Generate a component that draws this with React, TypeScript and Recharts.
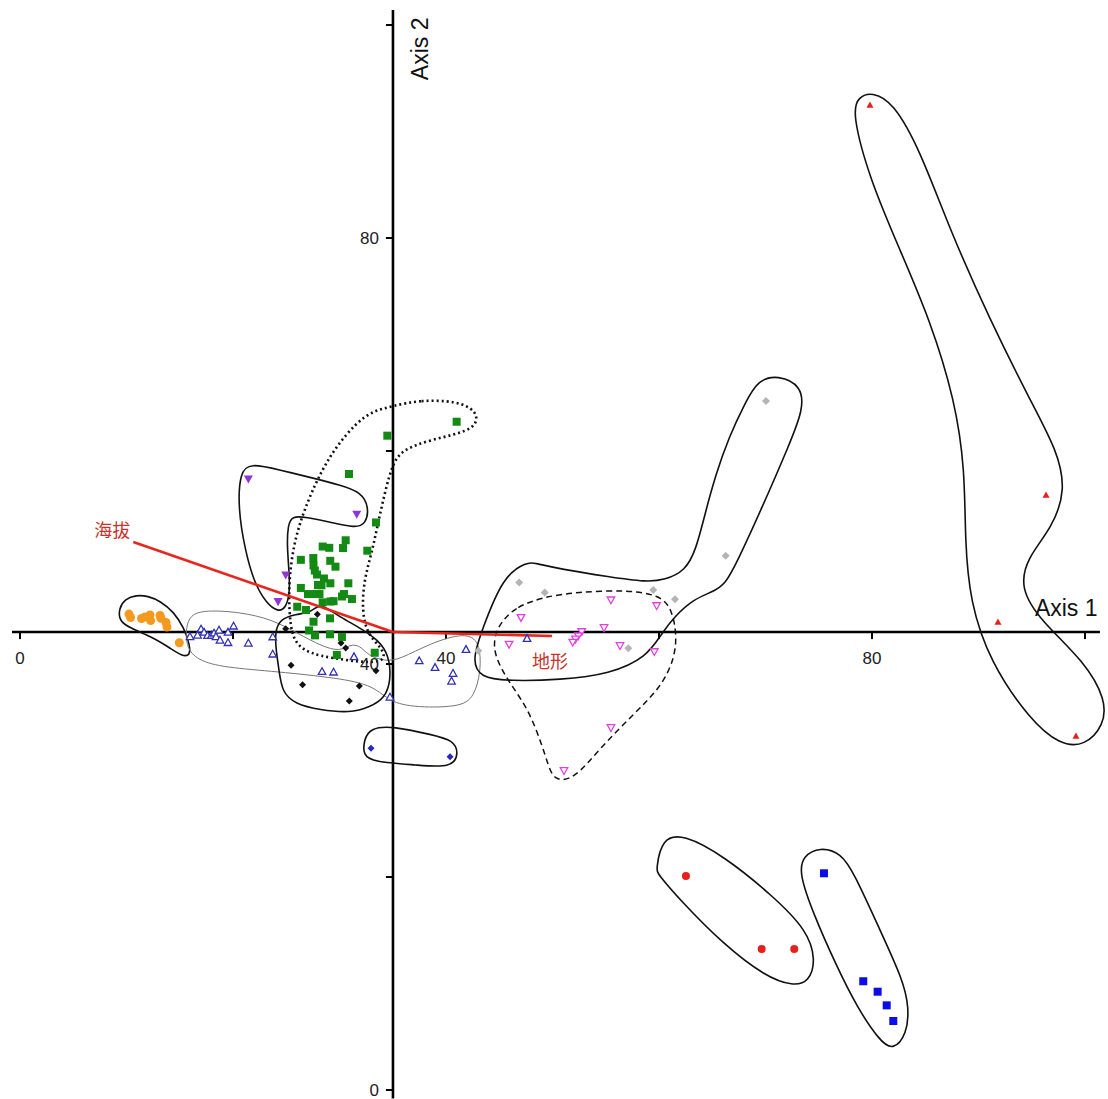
import { ScatterChart, Scatter, XAxis, YAxis, ReferenceLine, ReferenceDot } from "recharts";

type Pt = { x: number; y: number };

// axes cross at the centroid of the ordination
const axisCross: Pt = { x: 35.02, y: 43.0 };
const axis1Range = [-0.75, 101.4];
const axis2Range = [-0.8, 101.4];
const axis1Ticks = [0, 20, 40, 60, 80, 100];
const axis2Ticks = [0, 20, 40, 60, 80, 100];
const axis1Labels = [0, 40, 80];
const axis2Labels = [0, 40, 80];

// environmental vectors
const altitudeVector: Pt[] = [axisCross, { x: 10.64, y: 51.45 }];
const terrainVector: Pt[] = [axisCross, { x: 49.95, y: 42.63 }];

// sample scores
const orangeCircles: Pt[] = [
  { x: 10.23, y: 44.69 }, { x: 10.38, y: 44.37 }, { x: 11.41, y: 44.27 }, { x: 11.74, y: 44.41 },
  { x: 12.21, y: 44.6 }, { x: 12.27, y: 44.08 }, { x: 13.15, y: 44.55 }, { x: 13.24, y: 44.29 },
  { x: 13.71, y: 43.9 }, { x: 13.8, y: 43.47 }, { x: 14.96, y: 42.0 },
];
const blueTriangles: Pt[] = [
  { x: 15.96, y: 42.58 }, { x: 16.67, y: 42.72 }, { x: 17.0, y: 43.29 }, { x: 17.28, y: 43.0 },
  { x: 17.61, y: 42.68 }, { x: 17.98, y: 42.72 }, { x: 18.22, y: 42.91 }, { x: 18.4, y: 42.58 },
  { x: 18.69, y: 43.19 }, { x: 18.78, y: 42.25 }, { x: 19.53, y: 42.02 }, { x: 19.53, y: 43.0 },
  { x: 20.05, y: 43.57 }, { x: 21.44, y: 41.97 }, { x: 23.73, y: 42.56 }, { x: 23.73, y: 40.94 },
  { x: 28.36, y: 39.3 }, { x: 29.44, y: 39.25 }, { x: 31.36, y: 40.69 }, { x: 34.74, y: 36.9 },
  { x: 37.49, y: 40.31 }, { x: 38.97, y: 39.69 }, { x: 40.66, y: 39.13 }, { x: 40.52, y: 38.4 },
  { x: 41.88, y: 41.38 }, { x: 47.61, y: 42.41 },
];
const blackDiamonds: Pt[] = [
  { x: 24.95, y: 43.31 }, { x: 27.92, y: 44.67 }, { x: 30.14, y: 41.97 }, { x: 30.58, y: 41.5 },
  { x: 29.81, y: 40.8 }, { x: 25.45, y: 39.88 }, { x: 26.53, y: 38.06 }, { x: 31.86, y: 37.93 },
  { x: 30.92, y: 36.53 }, { x: 33.43, y: 39.37 },
];
const greenSquares: Pt[] = [
  { x: 41.0, y: 62.75 }, { x: 34.49, y: 61.44 }, { x: 30.89, y: 57.84 }, { x: 33.43, y: 53.29 },
  { x: 32.61, y: 50.64 }, { x: 30.58, y: 51.62 }, { x: 28.42, y: 51.03 }, { x: 29.04, y: 50.91 },
  { x: 30.33, y: 50.89 }, { x: 26.37, y: 49.78 }, { x: 27.54, y: 49.95 }, { x: 29.13, y: 49.69 },
  { x: 27.56, y: 49.25 }, { x: 29.62, y: 49.14 }, { x: 27.68, y: 48.78 }, { x: 27.89, y: 48.4 },
  { x: 28.54, y: 48.03 }, { x: 27.98, y: 47.42 }, { x: 28.31, y: 47.39 }, { x: 29.14, y: 47.58 },
  { x: 30.83, y: 47.58 }, { x: 26.37, y: 47.14 }, { x: 27.04, y: 46.57 }, { x: 27.79, y: 46.57 },
  { x: 28.12, y: 46.57 }, { x: 30.42, y: 46.57 }, { x: 30.23, y: 46.34 }, { x: 31.17, y: 46.1 },
  { x: 28.42, y: 45.79 }, { x: 29.14, y: 45.87 }, { x: 29.44, y: 45.9 }, { x: 26.03, y: 45.38 },
  { x: 26.85, y: 45.07 }, { x: 29.11, y: 44.29 }, { x: 27.56, y: 43.97 }, { x: 27.14, y: 43.15 },
  { x: 27.7, y: 42.69 }, { x: 29.11, y: 42.79 }, { x: 30.23, y: 42.54 }, { x: 29.75, y: 40.85 },
  { x: 33.31, y: 41.06 },
];
const purpleTriangles: Pt[] = [
  { x: 21.44, y: 57.37 }, { x: 31.62, y: 54.06 }, { x: 24.95, y: 48.36 }, { x: 24.23, y: 45.85 },
];
const grayDiamonds: Pt[] = [
  { x: 70.05, y: 64.69 }, { x: 66.26, y: 50.17 }, { x: 46.87, y: 47.65 }, { x: 49.27, y: 46.71 },
  { x: 59.46, y: 46.95 }, { x: 61.5, y: 46.08 }, { x: 57.12, y: 41.47 }, { x: 43.03, y: 41.25 },
];
const magentaTriangles: Pt[] = [
  { x: 47.04, y: 44.35 }, { x: 55.49, y: 46.01 }, { x: 59.78, y: 45.47 }, { x: 54.84, y: 43.41 },
  { x: 52.74, y: 43.03 }, { x: 52.42, y: 42.63 }, { x: 52.16, y: 42.33 }, { x: 51.9, y: 42.04 },
  { x: 45.92, y: 41.85 }, { x: 56.34, y: 41.72 }, { x: 59.56, y: 41.15 }, { x: 55.49, y: 34.02 },
  { x: 51.08, y: 29.98 },
];
const redTriangles: Pt[] = [
  { x: 79.81, y: 92.49 }, { x: 96.34, y: 55.87 }, { x: 91.83, y: 43.94 }, { x: 99.15, y: 33.24 },
];
const redCircles: Pt[] = [
  { x: 62.53, y: 20.09 }, { x: 69.64, y: 13.24 }, { x: 72.7, y: 13.24 },
];
const blueSquares: Pt[] = [
  { x: 75.49, y: 20.35 }, { x: 79.18, y: 10.21 }, { x: 80.53, y: 9.23 }, { x: 81.38, y: 7.95 },
  { x: 82.0, y: 6.48 },
];
const blueDiamonds: Pt[] = [
  { x: 32.96, y: 32.08 }, { x: 40.38, y: 31.3 },
];

// group outlines
const orangeHull: Pt[] = [
  { x: 9.3, y: 44.04 }, { x: 9.3, y: 45.26 }, { x: 9.86, y: 46.1 }, { x: 10.89, y: 46.48 },
  { x: 12.02, y: 46.39 }, { x: 13.15, y: 45.92 }, { x: 14.46, y: 44.88 }, { x: 15.4, y: 43.38 },
  { x: 15.96, y: 41.78 }, { x: 15.96, y: 40.75 }, { x: 15.21, y: 40.75 }, { x: 14.08, y: 41.5 },
  { x: 12.39, y: 42.54 }, { x: 10.33, y: 43.38 },
];
const blueTriangleHull: Pt[] = [
  { x: 15.59, y: 43.38 }, { x: 15.96, y: 44.6 }, { x: 17.37, y: 45.07 }, { x: 20.66, y: 44.88 },
  { x: 23.66, y: 44.19 }, { x: 26.1, y: 42.87 }, { x: 28.36, y: 41.65 }, { x: 30.05, y: 41.18 },
  { x: 30.99, y: 41.84 }, { x: 31.92, y: 41.75 }, { x: 32.68, y: 40.81 }, { x: 34.27, y: 40.25 },
  { x: 35.68, y: 40.44 }, { x: 38.5, y: 41.94 }, { x: 41.78, y: 42.97 }, { x: 43.19, y: 42.13 },
  { x: 43.29, y: 39.31 }, { x: 42.63, y: 36.87 }, { x: 41.31, y: 35.93 }, { x: 36.62, y: 35.93 },
  { x: 34.55, y: 36.59 }, { x: 33.05, y: 38.09 }, { x: 29.11, y: 38.78 }, { x: 23.47, y: 39.34 },
  { x: 18.78, y: 39.72 }, { x: 16.43, y: 40.47 }, { x: 15.59, y: 41.78 },
];
const blackHull: Pt[] = [
  { x: 23.94, y: 43.0 }, { x: 24.41, y: 44.22 }, { x: 25.92, y: 44.69 }, { x: 27.23, y: 44.79 },
  { x: 27.98, y: 45.54 }, { x: 28.73, y: 45.35 }, { x: 30.05, y: 44.41 }, { x: 32.11, y: 43.29 },
  { x: 33.62, y: 42.25 }, { x: 34.65, y: 40.85 }, { x: 34.84, y: 38.5 }, { x: 34.27, y: 36.81 },
  { x: 32.86, y: 35.96 }, { x: 30.99, y: 35.4 }, { x: 28.17, y: 35.68 }, { x: 25.82, y: 36.25 },
  { x: 24.6, y: 37.38 }, { x: 24.32, y: 39.44 }, { x: 24.04, y: 41.31 },
];
const greenHull: Pt[] = [
  { x: 35.02, y: 64.23 }, { x: 37.56, y: 64.79 }, { x: 41.03, y: 64.7 }, { x: 42.91, y: 63.76 },
  { x: 42.91, y: 62.44 }, { x: 41.5, y: 61.69 }, { x: 38.5, y: 61.03 }, { x: 36.06, y: 60.19 },
  { x: 35.02, y: 58.97 }, { x: 34.27, y: 56.15 }, { x: 33.62, y: 53.24 }, { x: 33.05, y: 50.52 },
  { x: 32.3, y: 47.89 }, { x: 32.11, y: 45.07 }, { x: 32.58, y: 42.82 }, { x: 33.99, y: 41.5 },
  { x: 34.37, y: 40.38 }, { x: 32.86, y: 40.1 }, { x: 30.52, y: 40.38 }, { x: 28.17, y: 40.75 },
  { x: 26.57, y: 41.31 }, { x: 25.54, y: 42.44 }, { x: 25.26, y: 45.07 }, { x: 25.26, y: 48.17 },
  { x: 25.82, y: 51.93 }, { x: 27.04, y: 55.4 }, { x: 28.36, y: 58.22 }, { x: 29.67, y: 60.38 },
  { x: 31.55, y: 62.63 }, { x: 33.15, y: 63.76 },
];
const purpleHull: Pt[] = [
  { x: 20.66, y: 58.03 }, { x: 21.6, y: 58.87 }, { x: 24.41, y: 58.22 }, { x: 27.51, y: 57.46 },
  { x: 30.05, y: 56.81 }, { x: 32.02, y: 56.15 }, { x: 32.77, y: 54.74 }, { x: 32.49, y: 53.15 },
  { x: 31.46, y: 52.77 }, { x: 29.11, y: 53.33 }, { x: 26.85, y: 53.8 }, { x: 25.54, y: 53.9 },
  { x: 25.16, y: 53.05 }, { x: 25.07, y: 51.17 }, { x: 25.26, y: 48.83 }, { x: 25.35, y: 46.76 },
  { x: 24.98, y: 45.26 }, { x: 24.23, y: 44.88 }, { x: 23.1, y: 45.73 }, { x: 21.97, y: 47.7 },
  { x: 21.13, y: 50.7 }, { x: 20.47, y: 54.65 },
];
const grayHull: Pt[] = [
  { x: 47.61, y: 49.58 }, { x: 45.35, y: 48.26 }, { x: 43.38, y: 43.19 }, { x: 42.44, y: 40.38 },
  { x: 43.19, y: 38.69 }, { x: 46.01, y: 38.41 }, { x: 50.7, y: 38.5 }, { x: 55.4, y: 39.06 },
  { x: 58.87, y: 40.66 }, { x: 60.28, y: 42.91 }, { x: 61.5, y: 44.51 }, { x: 63.29, y: 46.1 },
  { x: 64.98, y: 46.76 }, { x: 66.2, y: 47.42 }, { x: 67.42, y: 49.77 }, { x: 69.58, y: 54.46 },
  { x: 72.3, y: 60.75 }, { x: 73.52, y: 63.85 }, { x: 73.43, y: 66.1 }, { x: 71.17, y: 67.14 },
  { x: 69.3, y: 66.67 }, { x: 68.08, y: 64.51 }, { x: 66.57, y: 61.31 }, { x: 65.35, y: 57.84 },
  { x: 64.41, y: 54.46 }, { x: 63.48, y: 50.7 }, { x: 62.44, y: 48.73 }, { x: 60.56, y: 47.89 },
  { x: 58.78, y: 47.7 }, { x: 55.4, y: 48.17 }, { x: 50.7, y: 48.92 }, { x: 48.36, y: 49.48 },
];
const magentaHull: Pt[] = [
  { x: 45.35, y: 44.13 }, { x: 46.57, y: 45.35 }, { x: 49.11, y: 46.29 }, { x: 52.3, y: 46.76 },
  { x: 56.99, y: 46.95 }, { x: 60.09, y: 46.48 }, { x: 61.22, y: 45.16 }, { x: 61.69, y: 42.63 },
  { x: 61.41, y: 40.38 }, { x: 60.19, y: 37.84 }, { x: 57.65, y: 35.31 }, { x: 54.55, y: 32.21 },
  { x: 52.02, y: 29.11 }, { x: 50.05, y: 29.01 }, { x: 49.48, y: 30.99 }, { x: 47.89, y: 35.59 },
  { x: 46.01, y: 38.12 }, { x: 44.41, y: 40.94 }, { x: 44.6, y: 42.91 },
];
const redTriangleHull: Pt[] = [
  { x: 78.12, y: 91.74 }, { x: 78.69, y: 93.24 }, { x: 80.0, y: 93.71 }, { x: 81.97, y: 92.77 },
  { x: 84.51, y: 88.26 }, { x: 87.32, y: 80.75 }, { x: 91.08, y: 72.3 }, { x: 94.84, y: 64.79 },
  { x: 97.37, y: 60.09 }, { x: 98.22, y: 56.34 }, { x: 96.9, y: 52.77 }, { x: 94.55, y: 49.95 },
  { x: 93.9, y: 47.14 }, { x: 95.77, y: 44.13 }, { x: 100.0, y: 40.19 }, { x: 101.97, y: 36.62 },
  { x: 101.78, y: 34.27 }, { x: 100.0, y: 32.3 }, { x: 97.65, y: 32.39 }, { x: 94.84, y: 34.74 },
  { x: 91.08, y: 40.19 }, { x: 89.2, y: 45.82 }, { x: 88.73, y: 51.64 }, { x: 88.73, y: 58.22 },
  { x: 87.79, y: 64.79 }, { x: 85.45, y: 72.3 }, { x: 82.63, y: 78.87 }, { x: 79.81, y: 85.45 },
];
const redCircleHull: Pt[] = [
  { x: 59.72, y: 20.66 }, { x: 60.28, y: 23.66 }, { x: 62.25, y: 24.04 }, { x: 66.1, y: 21.97 },
  { x: 70.7, y: 18.22 }, { x: 73.9, y: 15.02 }, { x: 74.74, y: 12.21 }, { x: 74.08, y: 10.14 },
  { x: 72.58, y: 9.77 }, { x: 70.05, y: 10.61 }, { x: 66.01, y: 13.71 }, { x: 61.97, y: 17.84 },
  { x: 59.91, y: 20.28 },
];
const blueSquareHull: Pt[] = [
  { x: 73.15, y: 20.38 }, { x: 73.52, y: 21.97 }, { x: 75.12, y: 22.82 }, { x: 77.09, y: 22.25 },
  { x: 78.31, y: 20.38 }, { x: 80.75, y: 15.02 }, { x: 82.91, y: 10.33 }, { x: 83.47, y: 7.79 },
  { x: 83.29, y: 5.26 }, { x: 81.97, y: 3.66 }, { x: 80.66, y: 4.69 }, { x: 78.59, y: 7.79 },
  { x: 76.71, y: 11.55 }, { x: 74.46, y: 16.62 },
];
const blueDiamondHull: Pt[] = [
  { x: 32.3, y: 32.86 }, { x: 32.86, y: 33.99 }, { x: 35.02, y: 34.18 }, { x: 38.78, y: 33.33 },
  { x: 40.66, y: 32.86 }, { x: 41.22, y: 31.64 }, { x: 40.56, y: 30.23 }, { x: 37.28, y: 30.52 },
  { x: 33.15, y: 30.8 }, { x: 32.21, y: 31.46 },
];

const LATIN = "'Liberation Sans', Arial, sans-serif";
const NARROW = "'Liberation Sans Narrow', 'Arial Narrow', 'Liberation Sans', sans-serif";
const CJK = "'Noto Sans CJK SC', sans-serif";
const VECTOR_RED = "#e8261e";
const VECTOR_LABEL = "#c8332b";

const noMarker = () => <g />;

const markerShape = (kind: string, color: string, size: number) => (props: any) => {
  const { cx, cy } = props;
  if (cx == null || cy == null) return <g />;
  const h = size / 2;
  switch (kind) {
    case "circle":
      return <circle cx={cx} cy={cy} r={h} fill={color} />;
    case "square":
      return <rect x={cx - h} y={cy - h} width={size} height={size} fill={color} />;
    case "diamond":
      return (
        <polygon
          points={`${cx},${cy - h} ${cx + h},${cy} ${cx},${cy + h} ${cx - h},${cy}`}
          fill={color}
        />
      );
    case "up":
      return (
        <polygon points={`${cx},${cy - h} ${cx + h},${cy + h * 0.8} ${cx - h},${cy + h * 0.8}`} fill={color} />
      );
    case "down":
      return (
        <polygon points={`${cx},${cy + h} ${cx + h},${cy - h * 0.8} ${cx - h},${cy - h * 0.8}`} fill={color} />
      );
    case "upOpen":
      return (
        <polygon
          points={`${cx},${cy - h} ${cx + h},${cy + h * 0.8} ${cx - h},${cy + h * 0.8}`}
          fill="#fff"
          stroke={color}
          strokeWidth={1.3}
        />
      );
    case "downOpen":
      return (
        <polygon
          points={`${cx},${cy + h} ${cx + h},${cy - h * 0.8} ${cx - h},${cy - h * 0.8}`}
          fill="#fff"
          stroke={color}
          strokeWidth={1.3}
        />
      );
    default:
      return <g />;
  }
};

const hulls = [
  { data: orangeHull, stroke: "#111", width: 1.6, dash: undefined },
  { data: blueTriangleHull, stroke: "#777", width: 1, dash: undefined },
  { data: blackHull, stroke: "#111", width: 1.6, dash: undefined },
  { data: purpleHull, stroke: "#111", width: 1.6, dash: undefined },
  { data: greenHull, stroke: "#111", width: 2.6, dash: "2 3" },
  { data: grayHull, stroke: "#111", width: 1.6, dash: undefined },
  { data: magentaHull, stroke: "#111", width: 1.5, dash: "6 4" },
  { data: redTriangleHull, stroke: "#111", width: 1.6, dash: undefined },
  { data: redCircleHull, stroke: "#111", width: 1.6, dash: undefined },
  { data: blueSquareHull, stroke: "#111", width: 1.6, dash: undefined },
  { data: blueDiamondHull, stroke: "#111", width: 1.6, dash: undefined },
];

const groups = [
  { data: blueTriangles, shape: markerShape("upOpen", "#3030b4", 7.5) },
  { data: orangeCircles, shape: markerShape("circle", "#f39a1e", 9) },
  { data: blackDiamonds, shape: markerShape("diamond", "#111", 7) },
  { data: purpleTriangles, shape: markerShape("down", "#9134d6", 9) },
  { data: greenSquares, shape: markerShape("square", "#138a13", 8) },
  { data: grayDiamonds, shape: markerShape("diamond", "#b4b4b4", 8) },
  { data: magentaTriangles, shape: markerShape("downOpen", "#e23ee2", 7.5) },
  { data: redTriangles, shape: markerShape("up", "#e8201c", 7) },
  { data: redCircles, shape: markerShape("circle", "#e8201c", 8) },
  { data: blueSquares, shape: markerShape("square", "#0c0ce6", 8) },
  { data: blueDiamonds, shape: markerShape("diamond", "#2626c8", 7) },
];

const TICK_LEN = 0.66;

export default function App() {
  return (
    <div style={{ position: "absolute", left: 0, top: 0, width: 1108, height: 1099, background: "#fff" }}>
      <ScatterChart width={1108} height={1099} margin={{ top: 0, right: 0, bottom: 0, left: 0 }}>
        <XAxis type="number" dataKey="x" domain={[-1.878, 102.16]} allowDataOverflow hide />
        <YAxis type="number" dataKey="y" domain={[-0.845, 102.35]} allowDataOverflow hide />

        {hulls.map((h, i) => (
          <Scatter
            key={`hull-${i}`}
            data={h.data}
            fill="none"
            line={{ stroke: h.stroke, strokeWidth: h.width, strokeDasharray: h.dash, fill: "none" }}
            lineJointType="basisClosed"
            shape={noMarker}
            isAnimationActive={false}
          />
        ))}

        <Scatter
          data={altitudeVector}
          fill="none"
          line={{ stroke: VECTOR_RED, strokeWidth: 2.6 }}
          shape={noMarker}
          isAnimationActive={false}
        />
        <Scatter
          data={terrainVector}
          fill="none"
          line={{ stroke: VECTOR_RED, strokeWidth: 2.6 }}
          shape={noMarker}
          isAnimationActive={false}
        />

        <ReferenceLine
          segment={[{ x: axis1Range[0], y: axisCross.y }, { x: axis1Range[1], y: axisCross.y }]}
          stroke="#000"
          strokeWidth={2.6}
        />
        <ReferenceLine
          segment={[{ x: axisCross.x, y: axis2Range[0] }, { x: axisCross.x, y: axis2Range[1] }]}
          stroke="#000"
          strokeWidth={2.6}
        />
        {axis1Ticks.map((t) => (
          <ReferenceLine
            key={`t1-${t}`}
            segment={[{ x: t, y: axisCross.y }, { x: t, y: axisCross.y - TICK_LEN }]}
            stroke="#000"
            strokeWidth={2}
          />
        ))}
        {axis2Ticks.map((t) => (
          <ReferenceLine
            key={`t2-${t}`}
            segment={[{ x: axisCross.x, y: t }, { x: axisCross.x - TICK_LEN, y: t }]}
            stroke="#000"
            strokeWidth={2}
          />
        ))}
        {axis1Labels.map((t) => (
          <ReferenceDot
            key={`l1-${t}`}
            x={t}
            y={axisCross.y}
            r={0}
            shape={(p: any) => (
              <text x={p.cx} y={p.cy + 32} textAnchor="middle" fontSize={17} fontFamily={NARROW} fill="#222">
                {t}
              </text>
            )}
          />
        ))}
        {axis2Labels.map((t) => (
          <ReferenceDot
            key={`l2-${t}`}
            x={axisCross.x}
            y={t}
            r={0}
            shape={(p: any) => (
              <text x={p.cx - 14} y={p.cy + 6} textAnchor="end" fontSize={17} fontFamily={NARROW} fill="#222">
                {t}
              </text>
            )}
          />
        ))}

        {groups.map((g, i) => (
          <Scatter key={`grp-${i}`} data={g.data} shape={g.shape} isAnimationActive={false} />
        ))}

        <ReferenceDot
          x={axis1Range[1]}
          y={axisCross.y}
          r={0}
          shape={(p: any) => (
            <text x={p.cx - 65} y={p.cy - 16} fontSize={23} fontFamily={LATIN} fill="#111">
              Axis 1
            </text>
          )}
        />
        <ReferenceDot
          x={axisCross.x}
          y={axis2Range[1]}
          r={0}
          shape={(p: any) => (
            <text
              x={p.cx + 35}
              y={p.cy + 70}
              fontSize={23}
              fontFamily={LATIN}
              fill="#111"
              transform={`rotate(-90 ${p.cx + 35} ${p.cy + 70})`}
            >
              Axis 2
            </text>
          )}
        />
        <ReferenceDot
          x={altitudeVector[1].x}
          y={altitudeVector[1].y}
          r={0}
          shape={(p: any) => (
            <text x={p.cx - 21} y={p.cy - 5} textAnchor="middle" fontSize={18} fontFamily={CJK} fill={VECTOR_LABEL}>
              海拔
            </text>
          )}
        />
        <ReferenceDot
          x={terrainVector[1].x}
          y={terrainVector[1].y}
          r={0}
          shape={(p: any) => (
            <text x={p.cx - 2} y={p.cy + 32} textAnchor="middle" fontSize={18} fontFamily={CJK} fill={VECTOR_LABEL}>
              地形
            </text>
          )}
        />
      </ScatterChart>
    </div>
  );
}
